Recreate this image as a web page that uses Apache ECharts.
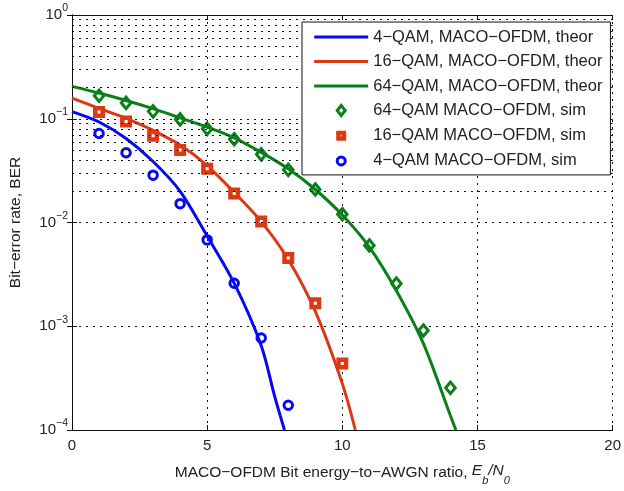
<!DOCTYPE html>
<html>
<head>
<meta charset="utf-8">
<script src="https://cdn.jsdelivr.net/npm/echarts@6/dist/echarts.min.js"></script>
<style>
html,body{margin:0;padding:0;background:#fff;}
#chart{width:624px;height:491px;}
</style>
</head>
<body>
<div id="chart"></div>
<script>
// ---- data ----
var xTicks = [0, 5, 10, 15, 20];
var yDecades = [1e-4, 1e-3, 1e-2, 1e-1, 1];

var names = [
  '4\u2212QAM, MACO\u2212OFDM, theor',
  '16\u2212QAM, MACO\u2212OFDM, theor',
  '64\u2212QAM, MACO\u2212OFDM, theor',
  '64\u2212QAM MACO\u2212OFDM, sim',
  '16\u2212QAM MACO\u2212OFDM, sim',
  '4\u2212QAM MACO\u2212OFDM, sim'
];

var qam4Theor = [[0,0.117],[1,0.093],[2,0.0645],[3,0.0387],[4,0.0200],[5,0.0074],[6,0.0026],[7,0.00065],[7.5,0.00021],[7.86,0.0001]];
var qam16Theor = [[0,0.158],[1,0.126],[2,0.101],[3,0.0774],[4,0.0557],[5,0.0354],[6,0.0195],[7,0.0102],[8,0.0044],[9,0.00139],[10,0.00028],[10.48,0.0001]];
var qam64Theor = [[0,0.205],[1,0.177],[2,0.15],[3,0.125],[4,0.102],[5,0.083],[6,0.0655],[7,0.0474],[8,0.0329],[9,0.0208],[10,0.0118],[11,0.0058],[12,0.0022],[13,0.00068],[14,0.000137],[14.2,0.0001]];

var qam64Sim = [[1,0.1667],[2,0.142],[3,0.118],[4,0.0986],[5,0.080],[6,0.0635],[7,0.0454],[8,0.0322],[9,0.0208],[10,0.012],[11,0.006],[12,0.00258],[13,0.00091],[14,0.000255]];
var qam16Sim = [[1,0.116],[2,0.0942],[3,0.0684],[4,0.0499],[5,0.0329],[6,0.019],[7,0.0102],[8,0.00454],[9,0.00167],[10,0.000437]];
var qam4Sim = [[1,0.072],[2,0.047],[3,0.0286],[4,0.0152],[5,0.0068],[6,0.0026],[7,0.00077],[8,0.000173]];

var minorMult = [2,3,4,5,6,7,8,9];

// ---- styles ----
var BLUE = '#0808f4', RED = '#dc3814', GREEN = '#0a7f1a';
var FONT = 'Liberation Sans, Arial, Helvetica, sans-serif';
var gridDot = {color: '#111', width: 1, type: [2, 5]};

var minorData = [];
yDecades.slice(0, 4).forEach(function (d) {
  minorMult.forEach(function (m) { minorData.push({yAxis: d * m}); });
});

function yLabel(v) {
  var e = Math.round(Math.log10(v));
  return '{b|10}{s|' + (e === 0 ? '0' : '\u2212' + (-e)) + '}';
}

// legend icons (drawn in a 54 x 14 box)
var BOX = 'M0,0L0,0M54,14L54,14';
var iconLine = 'path://' + BOX + 'M0,5.5L54,5.5L54,8.5L0,8.5Z';
var iconDiamond = 'path://' + BOX + 'M27,2L31,7L27,12L23,7Z';
var iconSquare = 'path://' + BOX + 'M24.2,4.2L29.8,4.2L29.8,9.8L24.2,9.8Z';
var iconCircle = 'path://' + BOX + 'M23,7A4,4 0 1,0 31,7A4,4 0 1,0 23,7Z';

var chart = echarts.init(document.getElementById('chart'), null, {renderer: 'canvas'});
chart.setOption({
  animation: false,
  backgroundColor: '#fff',
  textStyle: {fontFamily: FONT},
  grid: {left: 72, right: 10, top: 15, bottom: 56, containLabel: false},
  legend: {
    left: 302, top: 22, z: 20,
    orient: 'vertical',
    backgroundColor: '#fff',
    borderColor: '#111', borderWidth: 1,
    padding: [6.5, 8, 5.5, 10],
    itemWidth: 54, itemHeight: 14, itemGap: 7.5,
    textStyle: {fontFamily: FONT, fontSize: 16.5, color: '#222', lineHeight: 16},
    data: [
      {name: names[0], icon: iconLine, itemStyle: {color: BLUE, borderWidth: 0}},
      {name: names[1], icon: iconLine, itemStyle: {color: RED, borderWidth: 0}},
      {name: names[2], icon: iconLine, itemStyle: {color: GREEN, borderWidth: 0}},
      {name: names[3], icon: iconDiamond, itemStyle: {color: 'rgba(255,255,255,0)', borderColor: GREEN, borderWidth: 3}},
      {name: names[4], icon: iconSquare, itemStyle: {color: '#fff', borderColor: RED, borderWidth: 4.4}},
      {name: names[5], icon: iconCircle, itemStyle: {color: 'rgba(255,255,255,0)', borderColor: BLUE, borderWidth: 3}}
    ]
  },
  xAxis: [{
    type: 'value', min: 0, max: 20, interval: 5,
    axisLine: {show: true, lineStyle: {color: '#111', width: 1}},
    axisTick: {show: true, inside: true, length: 5, lineStyle: {color: '#111'}},
    axisLabel: {fontFamily: FONT, fontSize: 15, color: '#222', margin: 8},
    splitLine: {show: true, lineStyle: gridDot},
    name: 'MACO\u2212OFDM Bit energy\u2212to\u2212AWGN ratio, {i|E}{sub|b}{i|/N}{sub|0}',
    nameLocation: 'middle', nameGap: 33,
    nameTextStyle: {
      fontFamily: FONT, fontSize: 15.5, color: '#222',
      rich: {
        i: {fontFamily: FONT, fontSize: 15.5, fontStyle: 'italic', color: '#222', lineHeight: 20, verticalAlign: 'top'},
        sub: {fontFamily: FONT, fontSize: 11, fontStyle: 'italic', color: '#222', lineHeight: 20, verticalAlign: 'bottom', padding: [0,0,-3,0]}
      }
    }
  }, {
    type: 'value', min: 0, max: 20, interval: 5, position: 'top',
    axisLine: {show: true, lineStyle: {color: '#111', width: 1}},
    axisTick: {show: true, inside: true, length: 5, lineStyle: {color: '#111'}},
    axisLabel: {show: false}, splitLine: {show: false}
  }],
  yAxis: [{
    type: 'log', logBase: 10, min: 1e-4, max: 1,
    axisLine: {show: true, lineStyle: {color: '#111', width: 1}},
    axisTick: {show: true, inside: true, length: 5, lineStyle: {color: '#111'}},
    axisLabel: {
      formatter: yLabel, margin: 4,
      rich: {
        b: {fontFamily: FONT, fontSize: 15, color: '#222', lineHeight: 24, verticalAlign: 'middle'},
        s: {fontFamily: FONT, fontSize: 10.5, color: '#222', lineHeight: 24, verticalAlign: 'top'}
      }
    },
    splitLine: {show: true, lineStyle: gridDot},
    name: 'Bit\u2212error rate, BER',
    nameLocation: 'middle', nameGap: 48,
    nameTextStyle: {fontFamily: FONT, fontSize: 15.5, color: '#222'}
  }, {
    type: 'log', logBase: 10, min: 1e-4, max: 1, position: 'right',
    axisLine: {show: true, lineStyle: {color: '#111', width: 1}},
    axisTick: {show: true, inside: true, length: 5, lineStyle: {color: '#111'}},
    axisLabel: {show: false}, splitLine: {show: false}
  }],
  series: [
    {
      name: 'minor', type: 'line', data: [], silent: true,
      markLine: {
        silent: true, symbol: ['none', 'none'], label: {show: false},
        lineStyle: gridDot, emphasis: {disabled: true},
        data: minorData
      }
    },
    {name: names[0], type: 'line', data: qam4Theor, symbol: 'none', smooth: 0.3, clip: true,
      lineStyle: {color: BLUE, width: 3}, itemStyle: {color: BLUE}, z: 3},
    {name: names[1], type: 'line', data: qam16Theor, symbol: 'none', smooth: 0.3, clip: true,
      lineStyle: {color: RED, width: 3}, itemStyle: {color: RED}, z: 3},
    {name: names[2], type: 'line', data: qam64Theor, symbol: 'none', smooth: 0.3, clip: true,
      lineStyle: {color: GREEN, width: 3}, itemStyle: {color: GREEN}, z: 3},
    {name: names[3], type: 'scatter', data: qam64Sim, symbol: 'diamond', symbolSize: [9.5, 11.5],
      itemStyle: {color: 'rgba(255,255,255,0)', borderColor: GREEN, borderWidth: 3, opacity: 1}, z: 4},
    {name: names[4], type: 'scatter', data: qam16Sim, symbol: 'rect', symbolSize: 7.5,
      itemStyle: {color: '#fff', borderColor: RED, borderWidth: 4.5, opacity: 1}, z: 4},
    {name: names[5], type: 'scatter', data: qam4Sim, symbol: 'circle', symbolSize: 8.5,
      itemStyle: {color: 'rgba(255,255,255,0)', borderColor: BLUE, borderWidth: 3, opacity: 1}, z: 4}
  ]
});
</script>
</body>
</html>
